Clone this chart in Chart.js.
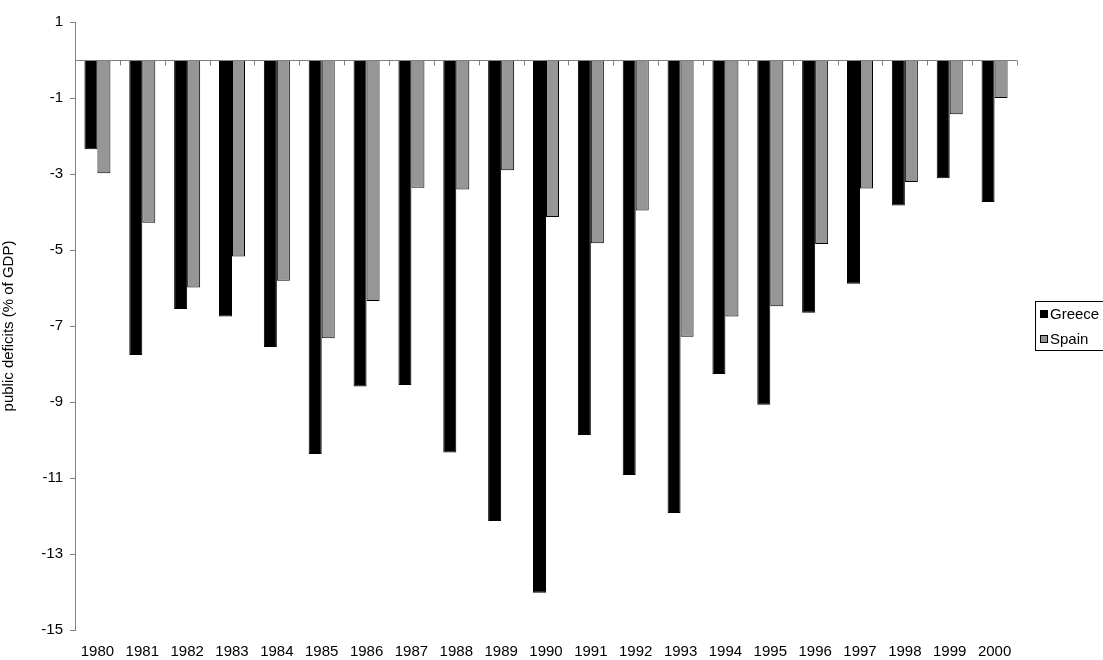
<!DOCTYPE html>
<html>
<head>
<meta charset="utf-8">
<script src="https://cdn.jsdelivr.net/npm/chart.js@4.4.1/dist/chart.umd.min.js"></script>
<style>
  html, body { margin: 0; padding: 0; background: #fff; }
  #wrap { width: 1103px; height: 660px; position: relative; }
</style>
</head>
<body>
<div id="wrap"><canvas id="myChart" width="1103" height="660"></canvas></div>
<script>
const years = ['1980', '1981', '1982', '1983', '1984', '1985', '1986', '1987', '1988', '1989', '1990',
  '1991', '1992', '1993', '1994', '1995', '1996', '1997', '1998', '1999', '2000'];
const greece = [-2.35, -7.76, -6.55, -6.75, -7.55, -10.37, -8.59, -8.55, -10.33, -12.13, -14.02,
  -9.87, -10.92, -11.92, -8.26, -9.07, -6.65, -5.89, -3.83, -3.11, -3.74];
const spain = [-2.98, -4.28, -5.99, -5.17, -5.81, -7.32, -6.34, -3.36, -3.41, -2.90, -4.13,
  -4.82, -3.96, -7.28, -6.75, -6.48, -4.84, -3.38, -3.21, -1.43, -1.00];
const yTicks = [1, -1, -3, -5, -7, -9, -11, -13, -15];

const FONT = '"Liberation Sans", Arial, sans-serif';

// zero line with tick marks between categories (like the excel axis)
const zeroAxis = {
  id: 'zeroAxis',
  afterDatasetsDraw(chart) {
    const { ctx, chartArea, scales } = chart;
    const y0 = Math.round(scales.y.getPixelForValue(0)) + 0.5;
    const n = years.length;
    const step = (chartArea.right - chartArea.left) / n;
    ctx.save();
    ctx.strokeStyle = '#808080';
    ctx.lineWidth = 1;
    ctx.beginPath();
    ctx.moveTo(chartArea.left, y0);
    ctx.lineTo(chartArea.right, y0);
    for (let i = 1; i <= n; i++) {
      const x = Math.round(chartArea.left + i * step) + 0.5;
      ctx.moveTo(x, y0);
      ctx.lineTo(x, y0 + 5);
    }
    ctx.stroke();
    ctx.restore();
  }
};

const boxLegend = {
  id: 'boxLegend',
  afterDraw(chart) {
    const { ctx } = chart;
    const items = chart.data.datasets;
    const left = 1035, top = 301, rowH = 25;
    ctx.save();
    ctx.strokeStyle = '#000';
    ctx.lineWidth = 1;
    ctx.strokeRect(left + 0.5, top + 0.5, 1103 - left + 5, 49);
    ctx.font = '15px ' + FONT;
    ctx.textBaseline = 'middle';
    items.forEach((ds, i) => {
      const cy = top + 13 + i * rowH;
      ctx.fillStyle = ds.backgroundColor;
      ctx.fillRect(left + 5, cy - 4, 8, 8);
      ctx.strokeStyle = '#000';
      ctx.strokeRect(left + 5.5, cy - 3.5, 7, 7);
      ctx.fillStyle = '#000';
      ctx.fillText(ds.label, left + 15, cy + 1);
    });
    ctx.restore();
  }
};

const ctx = document.getElementById('myChart').getContext('2d');

new Chart(ctx, {
  type: 'bar',
  data: {
    labels: years,
    datasets: [{
      label: 'Greece',
      backgroundColor: '#000000',
      borderColor: '#000000',
      borderWidth: 1,
      data: greece
    }, {
      label: 'Spain',
      backgroundColor: '#969696',
      borderColor: '#000000',
      borderWidth: 1,
      data: spain
    }]
  },
  options: {
    responsive: false,
    animation: false,
    layout: { padding: { left: 0, right: 86, top: 22, bottom: 0 } },
    datasets: {
      bar: { categoryPercentage: 0.58, barPercentage: 1.0 }
    },
    plugins: {
      legend: { display: false },
      tooltip: { enabled: false }
    },
    scales: {
      x: {
        grid: { display: false, drawTicks: false },
        border: { display: false },
        ticks: {
          color: '#000',
          font: { family: FONT, size: 15 },
          padding: 13,
          maxRotation: 0,
          autoSkip: false
        },
        afterFit(s) { s.height = 30; }
      },
      y: {
        min: -15,
        max: 1,
        afterBuildTicks(s) { s.ticks = yTicks.map(v => ({ value: v })); },
        grid: {
          drawOnChartArea: false,
          drawTicks: true,
          tickLength: 5,
          color: '#808080'
        },
        border: { display: true, color: '#808080', width: 1 },
        ticks: {
          color: '#000',
          font: { family: FONT, size: 15 },
          padding: 7
        },
        title: {
          display: true,
          text: 'public deficits (% of GDP)',
          color: '#000',
          font: { family: FONT, size: 15 },
          padding: { top: 0, bottom: 4 }
        },
        afterFit(s) { s.width = 75; }
      }
    }
  },
  plugins: [zeroAxis, boxLegend]
});
</script>
</body>
</html>
